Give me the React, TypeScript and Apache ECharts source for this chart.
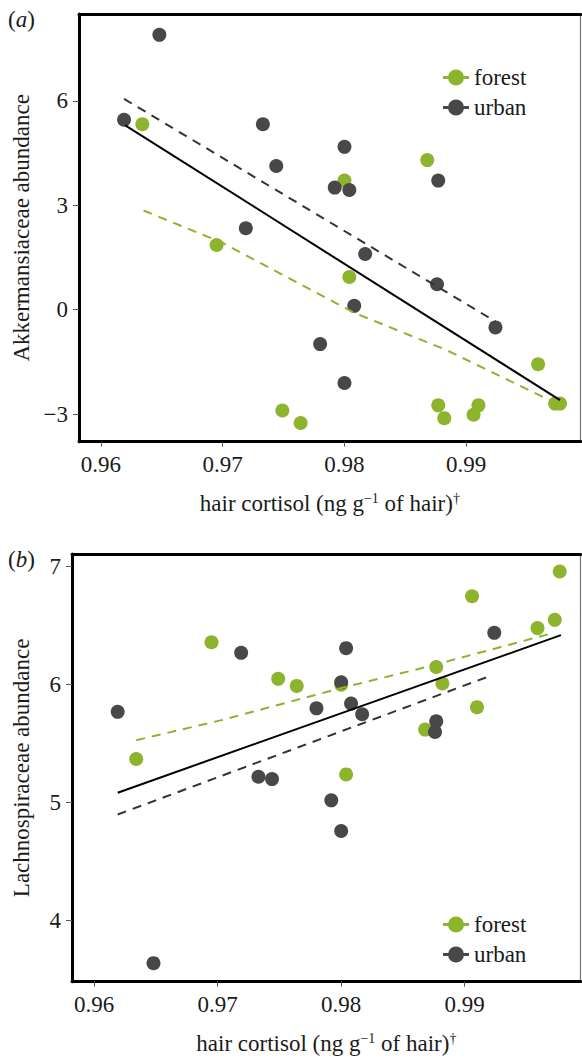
import React, { useEffect, useRef } from 'react';
import * as echarts from 'echarts';

const FONT = 'Liberation Serif';
const GREEN = '#8cb42c';
const DARK = '#484848';

// tick values
const xTicks = [0.96, 0.97, 0.98, 0.99];
const yTicksA = [-3, 0, 3, 6];
const yTicksB = [4, 5, 6, 7];

// hair cortisol per animal
const forestX = [0.9634, 0.9695, 0.9749, 0.9764, 0.98, 0.9804, 0.9868, 0.9877, 0.9882, 0.9906, 0.991, 0.9959, 0.9973, 0.9977];
const urbanX = [0.9619, 0.9648, 0.9719, 0.9733, 0.9744, 0.978, 0.9792, 0.98, 0.98, 0.9804, 0.9808, 0.9817, 0.9876, 0.9877, 0.9924];

// (a) Akkermansiaceae abundance
const forestA = [5.33, 1.86, -2.9, -3.26, 3.71, 0.94, 4.3, -2.75, -3.12, -3.02, -2.75, -1.57, -2.7, -2.7];
const urbanA = [5.46, 7.9, 2.34, 5.33, 4.13, -0.99, 3.51, 4.68, -2.11, 3.44, 0.11, 1.6, 0.73, 3.71, -0.51];

// (b) Lachnospiraceae abundance
const forestB = [5.37, 6.36, 6.05, 5.99, 6.0, 5.24, 5.62, 6.15, 6.01, 6.75, 5.81, 6.48, 6.55, 6.96];
const urbanB = [5.77, 3.64, 6.27, 5.22, 5.2, 5.8, 5.02, 4.76, 6.02, 6.31, 5.84, 5.75, 5.6, 5.69, 6.44];

// fitted trend lines [x, y]
const fitAllA = [[0.962, 5.3], [0.9977, -2.6]];
const fitUrbanA = [[0.9619, 6.06], [0.9924, -0.34]];
const fitForestA = [[0.9635, 2.85], [0.97, 1.92], [0.9808, -0.09], [0.9883, -1.15], [0.9973, -2.68]];
const fitAllB = [[0.9619, 5.085], [0.9978, 6.42]];
const fitUrbanB = [[0.9619, 4.9], [0.9922, 6.08]];
const fitForestB = [[0.9634, 5.53], [0.9703, 5.7], [0.9803, 5.98], [0.9869, 6.15], [0.9972, 6.44]];

const groups = ['forest', 'urban'];

const zip = (xs: number[], ys: number[]) => xs.map((x, i) => [x, ys[i]]);

const LEGEND_ICON = 'path://M0,6.5 H26 V9.5 H0 Z M5,8 A8,8 0 1,1 21,8 A8,8 0 1,1 5,8 Z';

const X_MIN = 0.9582;
const X_MAX = 0.9994;

const fmtY = (v: number) => (v < 0 ? '\u2212' + Math.abs(v) : String(v));

const xTitle = 'hair cortisol (ng g{sup|\u22121} of hair){sup|\u2020}';

function bottomX(gridIndex: number) {
  return {
    type: 'value',
    gridIndex,
    min: X_MIN,
    max: X_MAX,
    position: 'bottom',
    axisLine: { show: true, onZero: false, lineStyle: { color: '#000', width: 3 } },
    axisTick: { show: true, length: 5, customValues: xTicks, lineStyle: { color: '#555', width: 1 } },
    axisLabel: {
      customValues: xTicks,
      formatter: (v: number) => v.toFixed(2),
      fontSize: 23,
      fontFamily: FONT,
      color: '#1a1a1a',
      margin: 11,
    },
    splitLine: { show: false },
    name: xTitle,
    nameLocation: 'middle',
    nameGap: 50,
    nameTextStyle: {
      fontSize: 23,
      fontFamily: FONT,
      color: '#1a1a1a',
      rich: { sup: { fontSize: 14, fontFamily: FONT, color: '#1a1a1a', verticalAlign: 'top' } },
    },
  };
}

function topX(gridIndex: number) {
  return {
    type: 'value',
    gridIndex,
    min: X_MIN,
    max: X_MAX,
    position: 'top',
    axisLine: { show: true, onZero: false, lineStyle: { color: '#000', width: 3 } },
    axisTick: { show: false },
    axisLabel: { show: false },
    splitLine: { show: false },
  };
}

function leftY(gridIndex: number, min: number, max: number, ticks: number[], name: string, gap: number) {
  return {
    type: 'value',
    gridIndex,
    min,
    max,
    position: 'left',
    axisLine: { show: true, onZero: false, lineStyle: { color: '#000', width: 3 } },
    axisTick: { show: true, length: 6, customValues: ticks, lineStyle: { color: '#555', width: 1 } },
    axisLabel: {
      customValues: ticks,
      formatter: fmtY,
      fontSize: 23,
      fontFamily: FONT,
      color: '#1a1a1a',
      margin: 11,
    },
    splitLine: { show: false },
    name,
    nameLocation: 'middle',
    nameGap: gap,
    nameTextStyle: { fontSize: 23, fontFamily: FONT, color: '#1a1a1a' },
  };
}

function rightY(gridIndex: number, min: number, max: number) {
  return {
    type: 'value',
    gridIndex,
    min,
    max,
    position: 'right',
    axisLine: { show: true, onZero: false, lineStyle: { color: '#777', width: 1.2 } },
    axisTick: { show: false },
    axisLabel: { show: false },
    splitLine: { show: false },
  };
}

function scatter(name: string, color: string, data: number[][], idx: number) {
  return {
    type: 'scatter',
    name,
    xAxisIndex: idx,
    yAxisIndex: idx,
    data,
    symbol: 'circle',
    symbolSize: 14,
    itemStyle: { color, opacity: 1 },
    z: 2,
  };
}

function fit(data: number[][], color: string, dashed: boolean, idx: number) {
  return {
    type: 'line',
    xAxisIndex: idx,
    yAxisIndex: idx,
    data,
    showSymbol: false,
    symbol: 'none',
    silent: true,
    lineStyle: { color, width: 2, type: dashed ? [9, 7] : 'solid' },
    z: 3,
  };
}

function legend(top: number) {
  return {
    orient: 'vertical',
    left: 438,
    top,
    data: groups,
    icon: LEGEND_ICON,
    itemWidth: 26,
    itemHeight: 16,
    itemGap: 7,
    textStyle: { fontSize: 23, fontFamily: FONT, color: '#1a1a1a', lineHeight: 23 },
    selectedMode: false,
  };
}

const option = {
  animation: false,
  backgroundColor: '#fff',
  textStyle: { fontFamily: FONT },
  grid: [
    { left: 79, top: 14, width: 501.7, height: 427.7 },
    { left: 72, top: 554, width: 508.7, height: 427.7 },
  ],
  xAxis: [bottomX(0), topX(0), bottomX(1), topX(1)],
  yAxis: [
    leftY(0, -3.796, 8.5, yTicksA, 'Akkermansiaceae abundance', 46),
    rightY(0, -3.796, 8.5),
    leftY(1, 3.483, 7.108, yTicksB, 'Lachnospiraceae abundance', 39),
    rightY(1, 3.483, 7.108),
  ],
  legend: [legend(61), legend(908)],
  graphic: [
    {
      type: 'text',
      left: 8,
      top: 8,
      style: {
        text: '{n|(}{i|a}{n|)}',
        rich: {
          n: { fontSize: 23, fontFamily: FONT, fill: '#1a1a1a' },
          i: { fontSize: 23, fontFamily: FONT, fontStyle: 'italic', fill: '#1a1a1a' },
        },
      },
    },
    {
      type: 'text',
      left: 8,
      top: 548,
      style: {
        text: '{n|(}{i|b}{n|)}',
        rich: {
          n: { fontSize: 23, fontFamily: FONT, fill: '#1a1a1a' },
          i: { fontSize: 23, fontFamily: FONT, fontStyle: 'italic', fill: '#1a1a1a' },
        },
      },
    },
  ],
  series: [
    scatter('forest', GREEN, zip(forestX, forestA), 0),
    scatter('urban', DARK, zip(urbanX, urbanA), 0),
    fit(fitForestA, GREEN, true, 0),
    fit(fitUrbanA, '#333', true, 0),
    fit(fitAllA, '#000', false, 0),
    scatter('forest', GREEN, zip(forestX, forestB), 2),
    scatter('urban', DARK, zip(urbanX, urbanB), 2),
    fit(fitForestB, GREEN, true, 2),
    fit(fitUrbanB, '#333', true, 2),
    fit(fitAllB, '#000', false, 2),
  ],
};

export default function App() {
  const ref = useRef<HTMLDivElement>(null);
  useEffect(() => {
    document.body.style.margin = '0';
    const chart = echarts.init(ref.current!, null, { renderer: 'svg' });
    chart.setOption(option as any);
    return () => chart.dispose();
  }, []);
  return <div ref={ref} style={{ width: 582, height: 1059 }} />;
}
